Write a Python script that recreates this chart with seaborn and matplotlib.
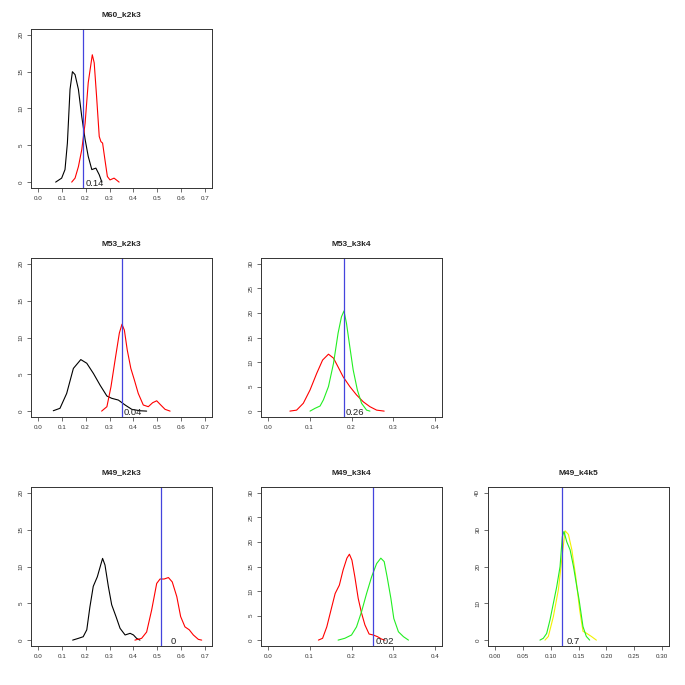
import matplotlib
matplotlib.use("Agg")
import matplotlib.pyplot as plt
import numpy as np
import pandas as pd
import seaborn as sns

sns.set_theme(style="ticks")
plt.rcParams['font.family'] = ['Liberation Sans', 'DejaVu Sans']

# curves (x, density)
m60_k2k3_black_x = [0.075, 0.1, 0.114, 0.124, 0.135, 0.145, 0.156, 0.17, 0.184, 0.198, 0.211, 0.226, 0.243, 0.257, 0.268]
m60_k2k3_black_y = [0.0, 0.54, 1.7, 5.3, 12.6, 15.0, 14.6, 12.6, 8.9, 5.8, 3.5, 1.7, 1.9, 1.0, 0.0]
m60_k2k3_red_x = [0.142, 0.156, 0.17, 0.184, 0.198, 0.211, 0.228, 0.236, 0.246, 0.257, 0.264, 0.271, 0.281, 0.291, 0.302, 0.319, 0.34]
m60_k2k3_red_y = [0.0, 0.54, 2.1, 4.4, 8.0, 13.5, 17.3, 16.2, 11.6, 6.2, 5.5, 5.3, 3.0, 0.76, 0.3, 0.54, 0.0]

m53_k2k3_black_x = [0.065, 0.093, 0.121, 0.149, 0.18, 0.205, 0.233, 0.261, 0.289, 0.309, 0.337, 0.365, 0.393, 0.427, 0.455]
m53_k2k3_black_y = [0.05, 0.38, 2.4, 5.8, 7.0, 6.5, 5.1, 3.5, 2.05, 1.74, 1.5, 0.83, 0.24, 0.05, 0.0]
m53_k2k3_red_x = [0.267, 0.289, 0.306, 0.323, 0.341, 0.352, 0.362, 0.374, 0.389, 0.404, 0.42, 0.441, 0.462, 0.48, 0.497, 0.514, 0.532, 0.553]
m53_k2k3_red_y = [0.0, 0.6, 3.3, 6.9, 10.6, 11.8, 11.0, 8.3, 5.8, 4.2, 2.4, 0.83, 0.6, 1.14, 1.4, 0.83, 0.24, 0.0]

m53_k3k4_red_x = [0.053, 0.069, 0.085, 0.101, 0.117, 0.131, 0.145, 0.157, 0.168, 0.18, 0.196, 0.212, 0.228, 0.244, 0.26, 0.278]
m53_k3k4_red_y = [0.0, 0.2, 1.6, 4.3, 7.7, 10.4, 11.6, 10.8, 9.0, 7.0, 5.0, 3.3, 1.9, 0.9, 0.2, 0.0]
m53_k3k4_green_x = [0.101, 0.113, 0.125, 0.133, 0.145, 0.157, 0.168, 0.176, 0.182, 0.188, 0.196, 0.204, 0.214, 0.224, 0.236, 0.244]
m53_k3k4_green_y = [0.0, 0.57, 1.04, 2.3, 5.0, 9.7, 15.9, 19.2, 20.4, 17.9, 13.1, 8.4, 4.3, 1.6, 0.2, 0.0]

m49_k2k3_black_x = [0.146, 0.17, 0.19, 0.205, 0.218, 0.232, 0.249, 0.263, 0.271, 0.281, 0.295, 0.309, 0.327, 0.344, 0.365, 0.386, 0.4, 0.413, 0.427]
m49_k2k3_black_y = [0.0, 0.24, 0.46, 1.4, 4.5, 7.3, 8.6, 10.2, 11.1, 10.2, 7.3, 4.8, 3.2, 1.6, 0.7, 0.92, 0.7, 0.24, 0.0]
m49_k2k3_red_x = [0.406, 0.434, 0.455, 0.476, 0.497, 0.511, 0.528, 0.546, 0.562, 0.581, 0.597, 0.615, 0.633, 0.65, 0.671, 0.685]
m49_k2k3_red_y = [0.0, 0.24, 1.1, 4.1, 7.7, 8.3, 8.3, 8.5, 7.9, 5.9, 3.2, 1.8, 1.4, 0.7, 0.1, 0.0]

m49_k3k4_red_x = [0.121, 0.131, 0.141, 0.153, 0.161, 0.171, 0.18, 0.189, 0.195, 0.201, 0.208, 0.216, 0.224, 0.232, 0.242, 0.252, 0.262, 0.272, 0.28]
m49_k3k4_red_y = [0.0, 0.37, 2.7, 6.8, 9.5, 11.2, 14.3, 16.7, 17.5, 16.3, 12.9, 8.5, 5.5, 3.1, 1.24, 1.04, 0.7, 0.2, 0.0]
m49_k3k4_green_x = [0.168, 0.184, 0.2, 0.212, 0.224, 0.236, 0.248, 0.26, 0.27, 0.278, 0.285, 0.294, 0.301, 0.312, 0.324, 0.336]
m49_k3k4_green_y = [0.0, 0.37, 1.04, 2.7, 5.8, 9.5, 12.9, 15.6, 16.7, 16.0, 12.9, 8.5, 4.4, 1.7, 0.7, 0.0]

m49_k4k5_green_x = [0.081, 0.087, 0.093, 0.099, 0.105, 0.111, 0.117, 0.121, 0.124, 0.129, 0.135, 0.141, 0.147, 0.151, 0.158, 0.164, 0.17]
m49_k4k5_green_y = [0.0, 0.5, 1.8, 5.5, 10.0, 14.5, 20.0, 28.1, 29.5, 26.7, 24.5, 20.0, 14.5, 11.0, 3.7, 1.0, 0.0]
m49_k4k5_yellow_x = [0.09, 0.096, 0.105, 0.114, 0.12, 0.126, 0.132, 0.138, 0.145, 0.152, 0.158, 0.164, 0.173, 0.182]
m49_k4k5_yellow_y = [0.0, 1.0, 6.4, 13.7, 21.9, 29.7, 28.7, 24.6, 17.3, 8.3, 2.4, 1.9, 1.0, 0.0]

titles = ["M60_k2k3", "M53_k2k3", "M53_k3k4", "M49_k2k3", "M49_k3k4", "M49_k4k5"]
cutoffs = [0.191, 0.35, 0.182, 0.517, 0.251, 0.121]
pvalue_labels = ["0.14", "0.04", "0.26", "0", "0.02", "0.7"]
label_x = [0.2, 0.357, 0.186, 0.556, 0.258, 0.129]
x_max = [0.7, 0.7, 0.4, 0.7, 0.4, 0.3]
x_step = [0.1, 0.1, 0.1, 0.1, 0.1, 0.05]
y_max = [20, 20, 30, 20, 30, 40]
y_step = [5, 5, 5, 5, 5, 10]

curves = [
    [(m60_k2k3_black_x, m60_k2k3_black_y, "black"), (m60_k2k3_red_x, m60_k2k3_red_y, "red")],
    [(m53_k2k3_black_x, m53_k2k3_black_y, "black"), (m53_k2k3_red_x, m53_k2k3_red_y, "red")],
    [(m53_k3k4_red_x, m53_k3k4_red_y, "red"), (m53_k3k4_green_x, m53_k3k4_green_y, "#22ee22")],
    [(m49_k2k3_black_x, m49_k2k3_black_y, "black"), (m49_k2k3_red_x, m49_k2k3_red_y, "red")],
    [(m49_k3k4_red_x, m49_k3k4_red_y, "red"), (m49_k3k4_green_x, m49_k3k4_green_y, "#22ee22")],
    [(m49_k4k5_yellow_x, m49_k4k5_yellow_y, "#f2f200"), (m49_k4k5_green_x, m49_k4k5_green_y, "#22ee22")],
]

# panel boxes in pixels (left, top) on the 685 px canvas
boxes = [(31, 29), (31, 258), (261, 258), (31, 487), (261, 487), (488, 487)]
W, H = 181, 159

fig = plt.figure(figsize=(6.85, 6.85), dpi=100)

for i in range(6):
    left, top = boxes[i]
    ax = fig.add_axes([left / 685, (685 - top - H) / 685, W / 685, H / 685])
    for cx, cy, col in curves[i]:
        df = pd.DataFrame({"x": cx, "y": cy})
        sns.lineplot(data=df, x="x", y="y", color=col, lw=0.8, sort=False,
                     estimator=None, ax=ax)
    ax.axvline(cutoffs[i], color="#4444dd", lw=0.9)
    ax.text(label_x[i], -0.2 * y_max[i] / 20, pvalue_labels[i], fontsize=6.8,
            ha="left", va="center", color="#222222")

    xm, ym = x_max[i], y_max[i]
    ax.set_xlim(-0.04 * xm, 1.04 * xm)
    ax.set_ylim(-0.04 * ym, 1.04 * ym)
    xt = np.arange(0, xm + 1e-9, x_step[i])
    ax.set_xticks(xt)
    fmt = "%.2f" if x_step[i] < 0.1 else "%.1f"
    ax.set_xticklabels([fmt % v for v in xt])
    ax.set_yticks(np.arange(0, ym + 1, y_step[i]))
    ax.tick_params(axis="x", labelsize=4.5, length=3, width=0.5, pad=2.5, colors="#333333")
    ax.tick_params(axis="y", labelsize=4.5, length=3, width=0.5, pad=2.5, colors="#333333",
                   labelrotation=90)
    for lab in ax.get_yticklabels():
        lab.set_va("center")
    for s in ax.spines.values():
        s.set_visible(True)
        s.set_linewidth(0.7)
        s.set_color("#333333")
    ax.set_xlabel("")
    ax.set_ylabel("")
    ax.set_title(titles[i], fontsize=6, fontweight="bold", pad=9)

fig.savefig("out.png", dpi=100, facecolor="white")
